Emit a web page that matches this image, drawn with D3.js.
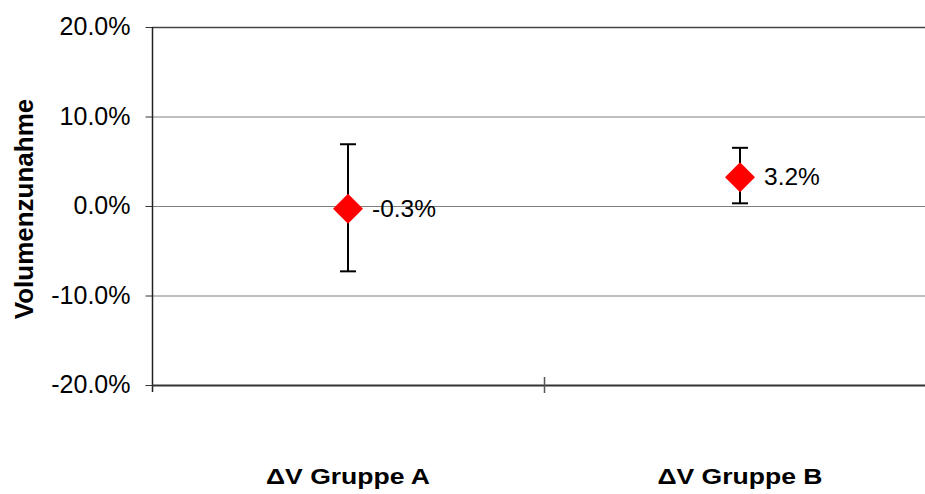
<!DOCTYPE html>
<html>
<head>
<meta charset="utf-8">
<script src="https://cdn.jsdelivr.net/npm/d3@7"></script>
<style>
  body { margin: 0; background: #fff; }
  text { font-family: Arial, "Liberation Sans", sans-serif; fill: #000; }
</style>
</head>
<body>
<div class="container"></div>
<script>
const w = 925
const h = 494

// data
const categories = ['ΔV Gruppe A', 'ΔV Gruppe B']
const means = [-0.3, 3.2]
const upper = [6.9, 6.5]
const lower = [-7.3, 0.3]
const yTicks = [-20, -10, 0, 10, 20]

const plotLeft = 152
const plotTop = 27
const plotBottom = 385

const svg = d3.select('.container')
    .append('svg')
    .attr('width', w)
    .attr('height', h)

const xScale = d3.scaleBand()
    .domain(categories)
    .range([plotLeft, plotLeft + 784])

const yScale = d3.scaleLinear()
    .domain([-20, 20])
    .range([plotBottom, plotTop])

// gridlines
svg.append('g')
    .selectAll('line')
    .data(yTicks.filter(d => d > -20))
    .enter()
    .append('line')
    .attr('x1', plotLeft)
    .attr('x2', w)
    .attr('y1', d => yScale(d) + 0.5)
    .attr('y2', d => yScale(d) + 0.5)
    .attr('stroke', d => d === 20 ? '#444' : '#808080')
    .attr('stroke-width', d => d === 20 ? 1.5 : 1)

// y axis
const yAxis = d3.axisLeft(yScale)
    .tickValues(yTicks)
    .tickSize(7)
    .tickPadding(15)
    .tickFormat(d => d.toFixed(1) + '%')
svg.append('g')
    .attr('transform', 'translate(' + (plotLeft + 0.5) + ', 0)')
    .call(yAxis)
    .call(g => g.select('.domain').remove())
    .call(g => g.selectAll('.tick line').attr('stroke', '#333'))
    .call(g => g.selectAll('.tick text')
        .attr('font-size', 25)
        .attr('font-family', 'Arial, "Liberation Sans", sans-serif')
        .attr('dy', '0.3em'))

svg.append('line')
    .attr('x1', plotLeft + 0.5)
    .attr('x2', plotLeft + 0.5)
    .attr('y1', plotTop)
    .attr('y2', plotBottom + 7)
    .attr('stroke', '#222')
    .attr('stroke-width', 1.5)

// x axis with crossing ticks
svg.append('line')
    .attr('x1', plotLeft)
    .attr('x2', w)
    .attr('y1', plotBottom + 0.5)
    .attr('y2', plotBottom + 0.5)
    .attr('stroke', '#333')
    .attr('stroke-width', 2)

const boundaries = [xScale(categories[1]), xScale(categories[1]) + xScale.bandwidth()]
svg.append('g')
    .selectAll('line')
    .data(boundaries)
    .enter()
    .append('line')
    .attr('x1', d => d + 0.5)
    .attr('x2', d => d + 0.5)
    .attr('y1', plotBottom - 8)
    .attr('y2', plotBottom + 8)
    .attr('stroke', '#555')
    .attr('stroke-width', 1.5)

// error bars
const cx = (d, i) => xScale(categories[i]) + xScale.bandwidth() / 2
const bars = svg.append('g')
    .attr('stroke', '#000')
    .attr('stroke-width', 2)
bars.selectAll('.stem')
    .data(means)
    .enter()
    .append('line')
    .attr('x1', cx)
    .attr('x2', cx)
    .attr('y1', (d, i) => yScale(upper[i]))
    .attr('y2', (d, i) => yScale(lower[i]))
bars.selectAll('.capTop')
    .data(means)
    .enter()
    .append('line')
    .attr('x1', (d, i) => cx(d, i) - 8)
    .attr('x2', (d, i) => cx(d, i) + 8)
    .attr('y1', (d, i) => yScale(upper[i]))
    .attr('y2', (d, i) => yScale(upper[i]))
bars.selectAll('.capBottom')
    .data(means)
    .enter()
    .append('line')
    .attr('x1', (d, i) => cx(d, i) - 8)
    .attr('x2', (d, i) => cx(d, i) + 8)
    .attr('y1', (d, i) => yScale(lower[i]))
    .attr('y2', (d, i) => yScale(lower[i]))

// diamonds
svg.selectAll('.point')
    .data(means)
    .enter()
    .append('path')
    .attr('d', 'M0,-15L15,0L0,15L-15,0Z')
    .attr('fill', '#ff0000')
    .attr('transform', (d, i) => 'translate(' + cx(d, i) + ',' + yScale(d) + ')')

// value labels
svg.selectAll('.label')
    .data(means)
    .enter()
    .append('text')
    .text(d => d.toFixed(1) + '%')
    .attr('x', (d, i) => cx(d, i) + 24)
    .attr('y', d => yScale(d) + 8)
    .attr('font-size', 24.5)

// category labels (a bit wider than plain bold Arial in the original)
svg.selectAll('.cat')
    .data(categories)
    .enter()
    .append('text')
    .text(d => d)
    .attr('transform', d => 'translate(' + (xScale(d) + xScale.bandwidth() / 2) + ', 484) scale(1.18, 1)')
    .attr('text-anchor', 'middle')
    .attr('font-size', 22.5)
    .attr('font-weight', 'bold')

// axis title
svg.append('text')
    .text('Volumenzunahme')
    .attr('transform', 'translate(33, 209) rotate(-90)')
    .attr('text-anchor', 'middle')
    .attr('font-size', 26)
    .attr('font-weight', 'bold')
</script>
</body>
</html>
